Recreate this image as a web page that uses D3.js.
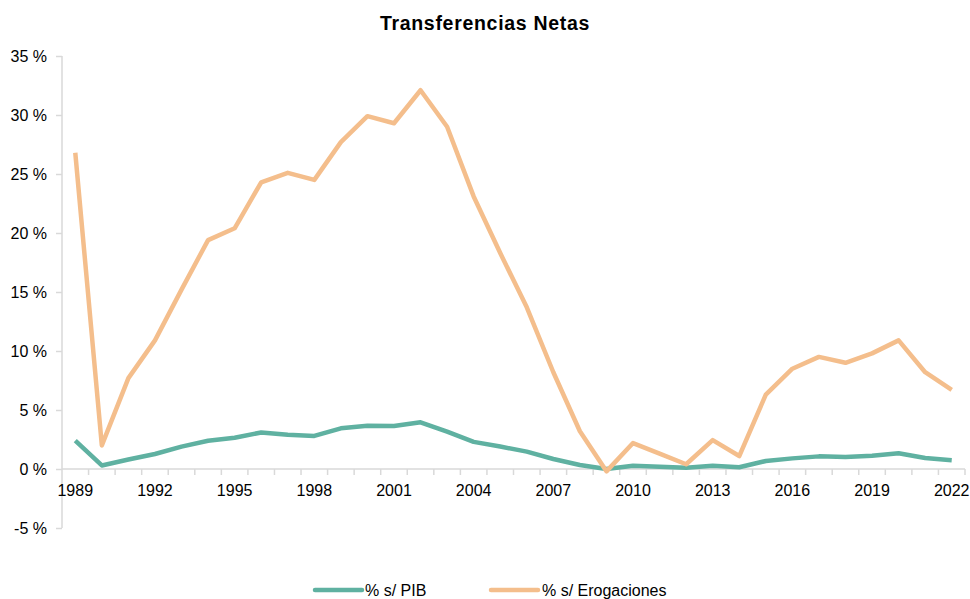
<!DOCTYPE html>
<html><head><meta charset="utf-8">
<script src="https://cdn.jsdelivr.net/npm/d3@7"></script>
<style>body{margin:0;background:#fff}svg{display:block;font-family:"Liberation Sans",Arial,sans-serif}</style>
</head><body><svg id="c" width="970" height="599"></svg>
<script>
const years = d3.range(1989, 2023);
const pib = [2.4,0.3,0.8,1.27,1.9,2.4,2.65,3.1,2.9,2.8,3.45,3.67,3.64,3.96,3.16,2.3,1.9,1.47,0.85,0.34,0.0,0.28,0.2,0.1,0.28,0.15,0.68,0.9,1.07,1.02,1.13,1.33,0.93,0.74];
const erog = [26.8,2.0,7.7,10.9,15.2,19.4,20.4,24.3,25.1,24.5,27.7,29.9,29.3,32.1,29.0,23.1,18.3,13.7,8.2,3.2,-0.2,2.2,1.3,0.4,2.45,1.1,6.3,8.5,9.5,9.0,9.8,10.9,8.2,6.7];
const yTicks = [-5,0,5,10,15,20,25,30,35];
const xLabelYears = d3.range(1989, 2023, 3);
const seriesNames = ["% s/ PIB","% s/ Erogaciones"];
const colors = ["#5FB1A1","#F4BE8C"];

const svg = d3.select("#c");
const L = 62, R = 965, T = 56, B = 528;
const x = d3.scaleBand().domain(years).range([L, R]).padding(0);
const y = d3.scaleLinear().domain([-5, 35]).range([B, T]);
const grey = "#d9d9d9";

svg.append("text").attr("x", 485).attr("y", 30).attr("text-anchor","middle")
  .attr("font-size", 19.5).attr("letter-spacing", 0.7).attr("font-weight","bold").attr("fill","#000").text("Transferencias Netas");

// y axis
const ya = svg.append("g").attr("transform", `translate(${L},0)`)
  .call(d3.axisLeft(y).tickValues(yTicks).tickSize(6).tickPadding(9).tickFormat(d => d + " %"));
ya.select(".domain").attr("stroke", grey).attr("stroke-width", 1.5).attr("d", `M0,${T}V${B}`);
ya.selectAll(".tick line").attr("stroke", grey).attr("stroke-width", 1.5);
ya.selectAll(".tick text").attr("font-size", 16).attr("fill","#000").style("font-family","Liberation Sans, Arial, sans-serif");

// x axis at zero
const xa = svg.append("g").attr("transform", `translate(0,${y(0)})`)
  .call(d3.axisBottom(x).tickValues([]).tickSize(0));
xa.select(".domain").attr("stroke", grey).attr("stroke-width", 1.5).attr("d", `M${L},0H${R}`);
const bounds = years.map(v => x(v) + x.bandwidth());
xa.selectAll("line.b").data(bounds).enter().append("line").attr("class","b")
  .attr("x1", d => d).attr("x2", d => d).attr("y1", 0).attr("y2", 6)
  .attr("stroke", grey).attr("stroke-width", 1.5);
xa.selectAll("text.l").data(xLabelYears).enter().append("text").attr("class","l")
  .attr("x", d => x(d) + x.bandwidth()/2).attr("y", 27).attr("text-anchor","middle")
  .attr("font-size", 16).attr("fill","#000").text(d => d);

const line = d3.line().x((d,i) => x(years[i]) + x.bandwidth()/2).y(d => y(d));
[pib, erog].forEach((s, k) => {
  svg.append("path").datum(s).attr("d", line).attr("fill","none")
    .attr("stroke", colors[k]).attr("stroke-width", 4.5).attr("stroke-linejoin","round");
});

// legend
const leg = [{x:315, tx:365},{x:491, tx:542}];
seriesNames.forEach((n, k) => {
  svg.append("line").attr("x1", leg[k].x).attr("x2", leg[k].x + 47).attr("y1", 590).attr("y2", 590)
    .attr("stroke", colors[k]).attr("stroke-width", 4.5).attr("stroke-linecap","round");
  svg.append("text").attr("x", leg[k].tx).attr("y", 596).attr("font-size", 16).attr("fill","#000").text(n);
});
</script></body></html>
